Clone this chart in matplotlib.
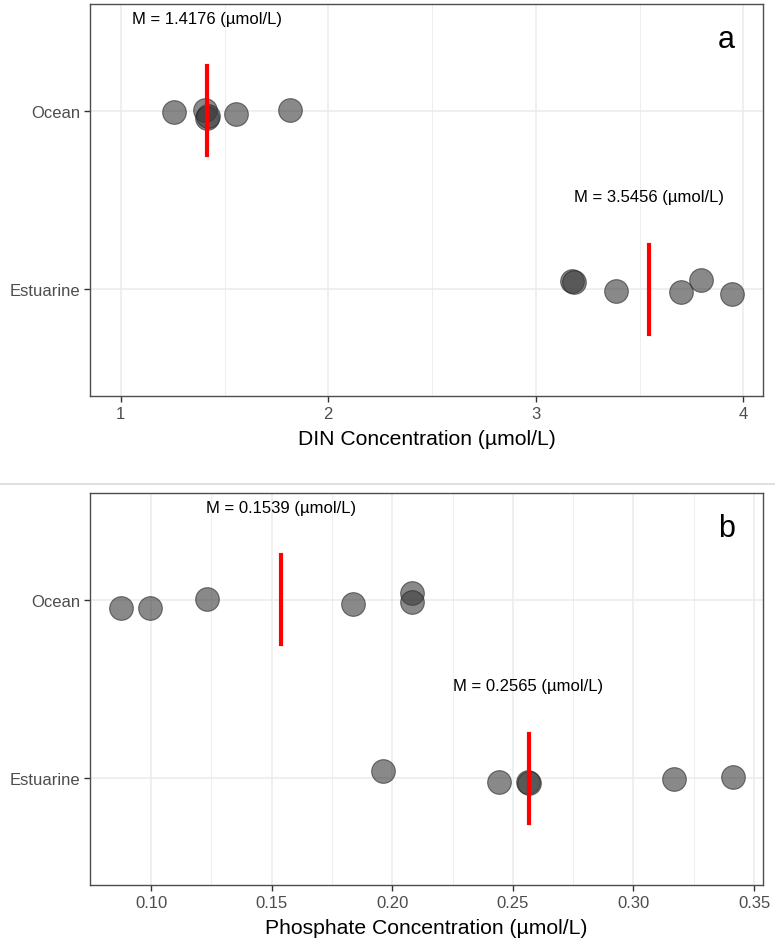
import numpy as np
import matplotlib.pyplot as plt
from matplotlib.lines import Line2D

plt.rcParams['font.family'] = ['Liberation Sans', 'DejaVu Sans']

groups = ["Estuarine", "Ocean"]

# DIN (umol/L)
din_ocean = [1.257, 1.406, 1.417, 1.420, 1.555, 1.815]
din_ocean_jit = [-0.006, 0.003, -0.039, -0.030, -0.015, 0.003]
din_est = [3.175, 3.182, 3.385, 3.701, 3.797, 3.945]
din_est_jit = [0.045, 0.038, -0.011, -0.018, 0.050, -0.030]
din_means = [3.5456, 1.4176]

# phosphate (umol/L)
po4_ocean = [0.0874, 0.0996, 0.1233, 0.1838, 0.2080, 0.2080]
po4_ocean_jit = [-0.047, -0.047, 0.004, -0.022, 0.036, -0.009]
po4_est = [0.1960, 0.2443, 0.2562, 0.2566, 0.3169, 0.3411]
po4_est_jit = [0.041, -0.024, -0.022, -0.026, -0.004, 0.004]
po4_means = [0.2565, 0.1539]

W, H = 775, 945
fig = plt.figure(figsize=(W / 100, H / 100), dpi=100)


def px_axes(l, t, r, b):
    return fig.add_axes([l / W, 1 - b / H, (r - l) / W, (b - t) / H])


def panel(ax, ocean, ocean_j, est, est_j, means, xlim, major, minor, fmt, xlabel, tag):
    ax.set_xlim(*xlim)
    ax.set_ylim(0.4, 2.6)
    ax.set_xticks(major)
    ax.set_xticks(minor, minor=True)
    ax.set_xticklabels([fmt.format(v) for v in major])
    ax.set_yticks([1, 2])
    ax.set_yticklabels(groups)
    ax.grid(True, which='major', color='#EBEBEB', lw=1.1, zorder=0)
    ax.grid(True, which='minor', axis='x', color='#EBEBEB', lw=0.6, zorder=0)
    ax.set_axisbelow(True)
    for s in ax.spines.values():
        s.set_color('#4D4D4D')
        s.set_linewidth(1.0)
    ax.tick_params(which='major', length=4, width=1, color='#333333',
                   labelcolor='#4D4D4D', labelsize=12)
    ax.tick_params(which='minor', length=0)
    ax.tick_params(axis='y', pad=3)

    ys_o = 2 + np.array(ocean_j)
    ys_e = 1 + np.array(est_j)
    for xs, ys in [(ocean, ys_o), (est, ys_e)]:
        ax.scatter(xs, ys, s=290, facecolor='#3a3a3a', edgecolor='#222222',
                   linewidths=0.8, alpha=0.6, zorder=3)
    for g, m in zip([1, 2], means):
        ax.plot([m, m], [g - 0.25, g + 0.25], color='red', lw=3, zorder=4)
        ax.text(m, g + 0.52, "M = {:.4f} (\u00b5mol/L)".format(m), ha='center',
                va='center', fontsize=12, color='black')
    ax.text(0.946, 0.91, tag, transform=ax.transAxes, ha='center', va='center',
            fontsize=22)
    ax.set_xlabel(xlabel, fontsize=15.2, labelpad=5.5)


ax1 = px_axes(90, 5, 763, 397)
panel(ax1, din_ocean, din_ocean_jit, din_est, din_est_jit, din_means,
      (0.852, 4.094), [1, 2, 3, 4], [1.5, 2.5, 3.5], "{:d}",
      "DIN Concentration (\u00b5mol/L)", "a")

ax2 = px_axes(90, 494, 763, 886)
panel(ax2, po4_ocean, po4_ocean_jit, po4_est, po4_est_jit, po4_means,
      (0.0747, 0.3537), [0.10, 0.15, 0.20, 0.25, 0.30, 0.35],
      [0.125, 0.175, 0.225, 0.275, 0.325], "{:.2f}",
      "Phosphate Concentration (\u00b5mol/L)", "b")

fig.add_artist(Line2D([0, 1], [1 - 484.5 / H, 1 - 484.5 / H], color='#D9D9D9', lw=1.2))

fig.savefig("out.png", dpi=100)
